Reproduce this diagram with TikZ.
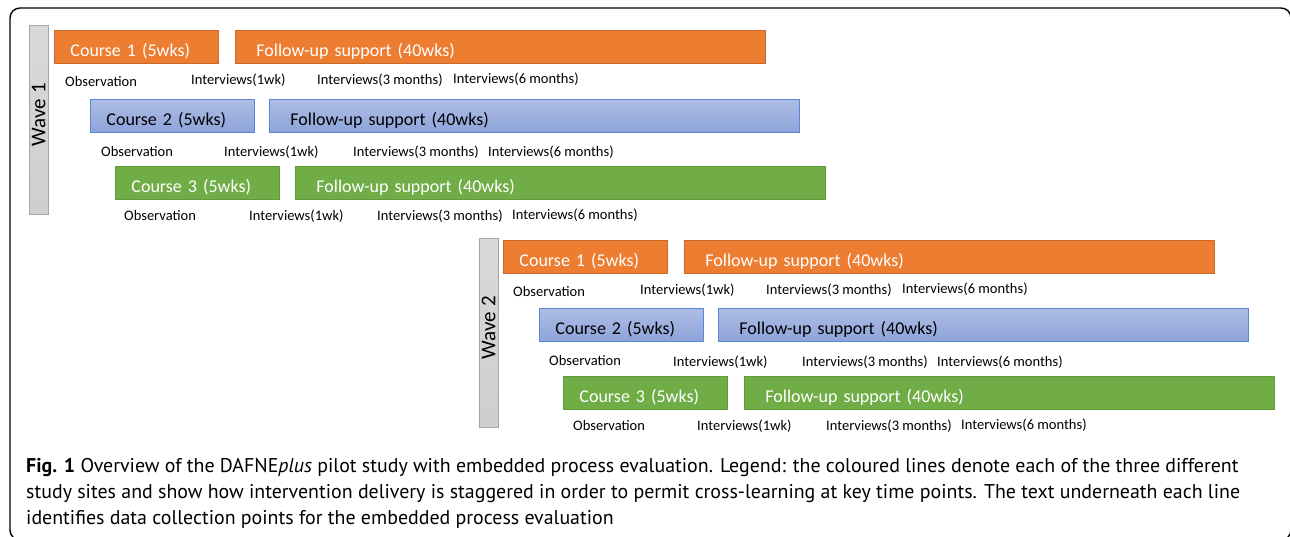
\documentclass[tikz,border=0pt]{standalone}
\usepackage{fontspec}
\setmainfont{Carlito}
\newfontfamily\capfont{PT Sans}
\begin{document}
\begin{tikzpicture}[x=1pt,y=-1pt,
  box/.style={draw, line width=0.9pt, anchor=north west, minimum height=33pt, align=left, inner ysep=0pt, text height=23pt, text depth=4pt, font=\fontsize{18}{20}\selectfont},
  crs/.style={box, inner xsep=16pt, text width=132pt},
  fup/.style={box, inner xsep=21pt, text width=488pt},
  org/.style={fill=orgc, draw=orgd, text=white},
  blu/.style={top color=bluet, bottom color=blub, draw=blud, text=black},
  grn/.style={fill=grnc, draw=grnd, text=white},
  lbl/.style={anchor=base west, font=\fontsize{14.5}{16}\selectfont, inner sep=0pt},
  wave/.style={draw=gray!70, top color=gray!30, bottom color=gray!38, minimum width=19pt, minimum height=189pt, anchor=north west, inner sep=0pt},
  wlbl/.style={rotate=90, font=\fontsize{21}{23}\selectfont},
  captxt/.style={anchor=base west, inner sep=0pt, font=\capfont\fontsize{19.9}{22}\selectfont}
]
\definecolor{orgc}{HTML}{ED7D31}
\definecolor{orgd}{HTML}{C96A2A}
\definecolor{bluet}{HTML}{AEBDE4}
\definecolor{blub}{HTML}{8CA3DA}
\definecolor{blud}{HTML}{5A86D6}
\definecolor{grnc}{HTML}{70AD47}
\definecolor{grnd}{HTML}{5F9A3C}
\useasboundingbox (0,0) rectangle (1290,536);
\draw[line width=1.4pt, rounded corners=10pt] (10,8) rectangle (1291,540);

% Wave 1
\node[wave] (w1) at (29,25) {};
\node[wlbl] at ([yshift=5pt]w1.center) {Wave 1};
\node[crs, org] (c11) at (54,30) {Course 1 (5wks)};
\node[fup, org] (f11) at (235,30) {Follow-up support (40wks)};
\node[lbl] (o11) at (65,86) {Observation};
\node[lbl] (a11) at (191,84) {Interviews(1wk)};
\node[lbl] (b11) at (317,84) {Interviews(3 months)};
\node[lbl] (d11) at (453,83) {Interviews(6 months)};

\node[crs, blu] (c12) at (90,99) {Course 2 (5wks)};
\node[fup, blu] (f12) at (269,99) {Follow-up support (40wks)};
\node[lbl] (o12) at (101,156) {Observation};
\node[lbl] (a12) at (224,156) {Interviews(1wk)};
\node[lbl] (b12) at (353,156) {Interviews(3 months)};
\node[lbl] (d12) at (488,156) {Interviews(6 months)};

\node[crs, grn] (c13) at (115,166) {Course 3 (5wks)};
\node[fup, grn] (f13) at (295,166) {Follow-up support (40wks)};
\node[lbl] (o13) at (124,220) {Observation};
\node[lbl] (a13) at (249,220) {Interviews(1wk)};
\node[lbl] (b13) at (377,220) {Interviews(3 months)};
\node[lbl] (d13) at (512,219) {Interviews(6 months)};

% Wave 2
\node[wave] (w2) at (479,238) {};
\node[wlbl] at ([yshift=5pt]w2.center) {Wave 2};
\node[crs, org] (c21) at (503,240) {Course 1 (5wks)};
\node[fup, org] (f21) at (684,240) {Follow-up support (40wks)};
\node[lbl] (o21) at (513,296) {Observation};
\node[lbl] (a21) at (640,294) {Interviews(1wk)};
\node[lbl] (b21) at (766,294) {Interviews(3 months)};
\node[lbl] (d21) at (902,293) {Interviews(6 months)};

\node[crs, blu] (c22) at (539,308) {Course 2 (5wks)};
\node[fup, blu] (f22) at (718,308) {Follow-up support (40wks)};
\node[lbl] (o22) at (549,365) {Observation};
\node[lbl] (a22) at (673,366) {Interviews(1wk)};
\node[lbl] (b22) at (802,366) {Interviews(3 months)};
\node[lbl] (d22) at (937,366) {Interviews(6 months)};

\node[crs, grn] (c23) at (563,376) {Course 3 (5wks)};
\node[fup, grn] (f23) at (744,376) {Follow-up support (40wks)};
\node[lbl] (o23) at (573,430) {Observation};
\node[lbl] (a23) at (697,430) {Interviews(1wk)};
\node[lbl] (b23) at (826,430) {Interviews(3 months)};
\node[lbl] (d23) at (961,429) {Interviews(6 months)};

% Caption
\node[captxt] (cap1) at (26,472) {\textbf{Fig. 1} Overview of the DAFNE\textit{plus} pilot study with embedded process evaluation. Legend: the coloured lines denote each of the three different};
\node[captxt] (cap2) at (26,498) {study sites and show how intervention delivery is staggered in order to permit cross-learning at key time points. The text underneath each line};
\node[captxt] (cap3) at (26,524) {identifies data collection points for the embedded process evaluation};
\end{tikzpicture}
\end{document}
